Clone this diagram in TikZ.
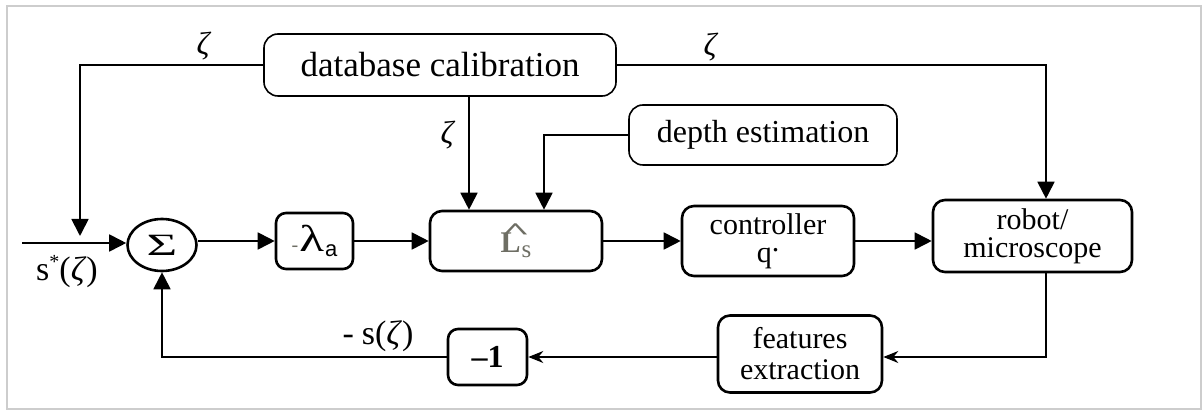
\documentclass[tikz,border=0pt]{standalone}
\usepackage{fontspec}
\setmainfont{Liberation Serif}
\newfontfamily\sansf{Liberation Sans}
\usetikzlibrary{arrows.meta,shapes.geometric}
\definecolor{framegray}{RGB}{205,205,205}
\definecolor{lgray}{RGB}{110,110,100}
\begin{document}
\begin{tikzpicture}[x=1pt,y=-1pt,
  box/.style={draw,line width=2.6pt,rounded corners=12pt,inner sep=0pt,align=center,font=\fontsize{30}{28}\selectfont},
  topbox/.style={draw,line width=1.6pt,rounded corners=14pt,inner sep=0pt,align=center},
  conn/.style={line width=1.8pt,-{Triangle[length=17pt,width=17pt]}},
  thinconn/.style={line width=1.5pt,-{Stealth[length=15pt,width=12pt]}},
  lbl/.style={inner sep=0pt,font=\fontsize{34}{34}\selectfont}]
\useasboundingbox (0,0) rectangle (1203,411);
\draw[framegray,line width=1.5pt] (7,6) rectangle (1201,409);
% nodes
\node[topbox,minimum width=352,minimum height=62,font=\fontsize{35}{38}\selectfont] (db) at (440,65) {database calibration};
\node[topbox,minimum width=268,minimum height=60,font=\fontsize{32}{34}\selectfont] (depth) at (763,135) {depth estimation};
\node[draw,ellipse,line width=2.6pt,minimum width=69,minimum height=52,inner sep=0pt] (sum) at (162,245) {\fontsize{31}{31}\selectfont\scalebox{1.7}[1]{Σ}};
\node[box,minimum width=77,minimum height=56,rounded corners=10pt] (lam) at (314.5,241) {\textcolor{lgray}{\fontsize{20}{20}\selectfont -}\kern1pt{\fontsize{34}{34}\selectfont\scalebox{1.5}[1.1]{λ}}\kern1pt\raisebox{-5pt}{\sansf\fontsize{22}{22}\selectfont a}};
\node[box,minimum width=172,minimum height=60] (Lhat) at (516,241) {\color{lgray}{\fontsize{30}{30}\selectfont\bfseries\makebox[0pt][l]{\raisebox{13pt}{\kern0pt\scalebox{1.7}[0.8]{\textasciicircum}}}L}\kern1pt\raisebox{-5pt}{\fontsize{25}{25}\selectfont s}};
\node[box,minimum width=172,minimum height=70] (ctrl) at (768,241) {controller\\q\raisebox{11pt}{.}};
\node[box,minimum width=199,minimum height=72] (robot) at (1032.5,236) {robot/\\microscope};
\node[box,minimum width=164,minimum height=77] (feat) at (800,354) {features\\[3pt]extraction};
\node[box,minimum width=79,minimum height=56,rounded corners=10pt,font=\bfseries\fontsize{32}{32}\selectfont] (m1) at (487.5,357) {–1};
% labels
\node[lbl,font=\fontsize{32}{32}\selectfont] (z1) at (203,46) {\itshape ζ};
\node[lbl,font=\fontsize{32}{32}\selectfont] (z2) at (447,135) {\itshape ζ};
\node[lbl,font=\fontsize{32}{32}\selectfont] (z3) at (710,47) {\itshape ζ};
\node[lbl] (sstar) at (67,272) {s\raisebox{12pt}{\fontsize{20}{20}\selectfont *}(\textit{ζ})};
\node[lbl] (ms) at (378,336) {-\kern8pt s(\textit{ζ})};
% coordinates
\coordinate (in) at (22,243);
\coordinate (tapL) at (80,236);
\coordinate (colA) at (469,0);
\coordinate (colB) at (544,0);
\coordinate (colC) at (1046,0);
% connectors
\draw[conn] (in) -- (sum.west |- in);
\draw[conn] (db.west) -| (tapL);
\draw[conn] (sum.east |- lam.west) -- (lam.west);
\draw[conn] (lam.east) -- (Lhat.west);
\draw[conn] (Lhat.east) -- (ctrl.west);
\draw[conn] (ctrl.east) -- (ctrl.east -| robot.west);
\draw[conn] (db.south -| colA) -- (Lhat.north -| colA);
\draw[conn] (depth.west) -| (Lhat.north -| colB);
\draw[conn] (db.east) -| (robot.north -| colC);
\draw[thinconn] (robot.south -| colC) |- (feat.east |- m1.east);
\draw[thinconn] (feat.west |- m1.east) -- (m1.east);
\draw[conn] (m1.west) -| (sum.south);
\end{tikzpicture}
\end{document}
